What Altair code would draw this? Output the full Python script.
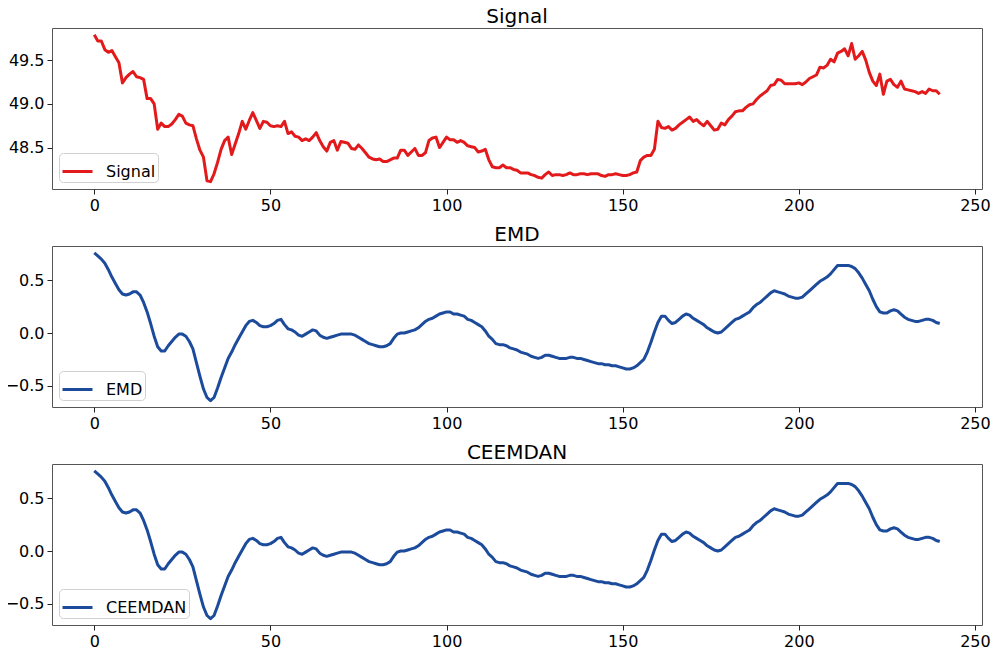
import altair as alt
import pandas as pd

# ---- data ----
signal_values = [
    49.79, 49.72, 49.72, 49.62, 49.59, 49.61, 49.54, 49.47, 49.24, 49.30,
    49.34, 49.37, 49.31, 49.30, 49.28, 49.06, 49.06, 49.00, 48.71, 48.78,
    48.74, 48.74, 48.77, 48.82, 48.88, 48.86, 48.78, 48.76, 48.75, 48.60,
    48.47, 48.39, 48.12, 48.11, 48.20, 48.33, 48.48, 48.58, 48.62, 48.42,
    48.54, 48.66, 48.80, 48.71, 48.81, 48.90, 48.81, 48.72, 48.80, 48.79,
    48.75, 48.74, 48.75, 48.74, 48.80, 48.66, 48.68, 48.63, 48.62, 48.58,
    48.60, 48.58, 48.62, 48.67, 48.58, 48.51, 48.46, 48.56, 48.58, 48.47,
    48.57, 48.56, 48.55, 48.49, 48.48, 48.53, 48.49, 48.44, 48.39, 48.37,
    48.36, 48.37, 48.34, 48.34, 48.36, 48.38, 48.38, 48.47, 48.47, 48.41,
    48.45, 48.49, 48.41, 48.41, 48.44, 48.58, 48.61, 48.62, 48.50, 48.56,
    48.62, 48.59, 48.59, 48.56, 48.58, 48.56, 48.52, 48.51, 48.50, 48.45,
    48.46, 48.48, 48.36, 48.28, 48.27, 48.27, 48.30, 48.27, 48.27, 48.25,
    48.24, 48.21, 48.21, 48.21, 48.19, 48.18, 48.16, 48.15, 48.19, 48.22,
    48.18, 48.19, 48.19, 48.18, 48.19, 48.21, 48.19, 48.19, 48.20, 48.20,
    48.19, 48.20, 48.20, 48.20, 48.18, 48.17, 48.19, 48.19, 48.20, 48.19,
    48.18, 48.18, 48.19, 48.21, 48.22, 48.35, 48.39, 48.41, 48.41, 48.48,
    48.80, 48.73, 48.72, 48.74, 48.70, 48.72, 48.76, 48.79, 48.82, 48.85,
    48.80, 48.82, 48.78, 48.75, 48.80, 48.75, 48.70, 48.71, 48.78, 48.76,
    48.82, 48.86, 48.91, 48.92, 48.92, 48.96, 48.99, 49.00, 49.05, 49.09,
    49.12, 49.15, 49.21, 49.22, 49.28, 49.27, 49.23, 49.23, 49.23, 49.23,
    49.24, 49.22, 49.25, 49.29, 49.31, 49.33, 49.42, 49.41, 49.44, 49.51,
    49.48, 49.58, 49.60, 49.63, 49.55, 49.69, 49.51, 49.55, 49.60, 49.50,
    49.36, 49.26, 49.21, 49.34, 49.11, 49.26, 49.28, 49.22, 49.19, 49.26,
    49.17, 49.16, 49.15, 49.14, 49.12, 49.14, 49.12, 49.17, 49.15, 49.15,
    49.11,
]

emd_values = [
    0.76, 0.73, 0.70, 0.66, 0.60, 0.53, 0.47, 0.41, 0.37, 0.36,
    0.37, 0.39, 0.39, 0.36, 0.29, 0.20, 0.09, -0.03, -0.13, -0.17,
    -0.17, -0.12, -0.08, -0.04, -0.01, -0.01, -0.03, -0.08, -0.15, -0.28,
    -0.41, -0.53, -0.61, -0.64, -0.61, -0.52, -0.42, -0.33, -0.24, -0.18,
    -0.11, -0.05, 0.01, 0.07, 0.11, 0.12, 0.10, 0.07, 0.06, 0.06,
    0.07, 0.09, 0.12, 0.13, 0.08, 0.04, 0.03, 0.01, -0.02, -0.03,
    -0.01, 0.01, 0.03, 0.02, -0.02, -0.04, -0.05, -0.04, -0.03, -0.02,
    -0.01, -0.01, -0.01, -0.01, -0.02, -0.04, -0.06, -0.08, -0.10, -0.11,
    -0.12, -0.13, -0.13, -0.12, -0.10, -0.05, -0.01, 0.00, 0.00, 0.01,
    0.02, 0.03, 0.05, 0.08, 0.11, 0.13, 0.14, 0.16, 0.18, 0.19,
    0.20, 0.20, 0.18, 0.18, 0.17, 0.16, 0.13, 0.12, 0.10, 0.08,
    0.06, 0.02, -0.03, -0.06, -0.10, -0.11, -0.11, -0.12, -0.14, -0.15,
    -0.16, -0.18, -0.19, -0.20, -0.22, -0.23, -0.24, -0.23, -0.21, -0.21,
    -0.22, -0.23, -0.24, -0.24, -0.24, -0.23, -0.23, -0.24, -0.24, -0.25,
    -0.26, -0.27, -0.28, -0.29, -0.29, -0.30, -0.30, -0.31, -0.31, -0.32,
    -0.33, -0.34, -0.34, -0.33, -0.31, -0.28, -0.25, -0.18, -0.09, 0.01,
    0.10, 0.16, 0.16, 0.12, 0.09, 0.10, 0.13, 0.16, 0.18, 0.17,
    0.14, 0.12, 0.10, 0.08, 0.05, 0.03, 0.01, 0.00, 0.01, 0.04,
    0.07, 0.10, 0.13, 0.14, 0.16, 0.18, 0.20, 0.24, 0.27, 0.29,
    0.32, 0.35, 0.38, 0.40, 0.39, 0.38, 0.37, 0.35, 0.34, 0.33,
    0.33, 0.34, 0.37, 0.40, 0.43, 0.46, 0.49, 0.51, 0.53, 0.56,
    0.60, 0.64, 0.64, 0.64, 0.64, 0.63, 0.61, 0.57, 0.52, 0.46,
    0.40, 0.32, 0.25, 0.20, 0.19, 0.19, 0.21, 0.22, 0.21, 0.18,
    0.15, 0.13, 0.12, 0.11, 0.11, 0.12, 0.13, 0.13, 0.12, 0.10,
    0.09,
]

ceemdan_values = list(emd_values)

x_ticks = [0, 50, 100, 150, 200, 250]
signal_ticks = [48.5, 49.0, 49.5]
imf_ticks = [-0.5, 0.0, 0.5]

RED = "#e31a1c"
BLUE = "#1c4b9c"
FONT = "DejaVu Sans"
W, H = 930, 161


def panel(values, name, color, y_domain, y_ticks):
    df = pd.DataFrame({"t": list(range(len(values))), "v": values, "series": name})
    return (
        alt.Chart(df, title=alt.Title(name))
        .mark_line(strokeWidth=3, strokeJoin="round")
        .encode(
            x=alt.X("t:Q", scale=alt.Scale(domain=[-12, 252], nice=False, zero=False),
                    axis=alt.Axis(values=x_ticks, format="d", title=None)),
            y=alt.Y("v:Q", scale=alt.Scale(domain=y_domain, nice=False, zero=False),
                    axis=alt.Axis(values=y_ticks, format=".1f", title=None)),
            color=alt.Color("series:N",
                            scale=alt.Scale(domain=[name], range=[color]),
                            legend=alt.Legend(title=None, orient="bottom-left", offset=7,
                                              symbolType="stroke", symbolSize=900,
                                              symbolStrokeWidth=3, labelOffset=12,
                                              labelFontSize=16, labelFont=FONT,
                                              labelColor="black",
                                              padding=2, cornerRadius=4,
                                              strokeColor="#d0d0d0", fillColor="white")),
        )
        .properties(width=W, height=H)
    )


chart = (
    alt.vconcat(
        panel(signal_values, "Signal", RED, [48.026, 49.868], signal_ticks),
        panel(emd_values, "EMD", BLUE, [-0.70, 0.824], imf_ticks),
        panel(ceemdan_values, "CEEMDAN", BLUE, [-0.70, 0.824], imf_ticks),
        spacing=10,
    )
    .resolve_scale(color="independent", x="independent", y="independent")
    .resolve_legend(color="independent")
    .properties(padding={"left": -4, "top": -2, "right": 0, "bottom": -3})
    .configure_view(stroke="#555555", strokeWidth=1)
    .configure_axis(domain=False, grid=False, tickColor="#222222", tickSize=5,
                    tickWidth=1, labelFontSize=16, labelFont=FONT, labelColor="black",
                    labelPadding=3)
    .configure_title(fontSize=20, font=FONT, fontWeight="normal", anchor="middle",
                     offset=1, color="black")
)

chart.save("out.html", embed_options={"renderer": "svg", "actions": False})
